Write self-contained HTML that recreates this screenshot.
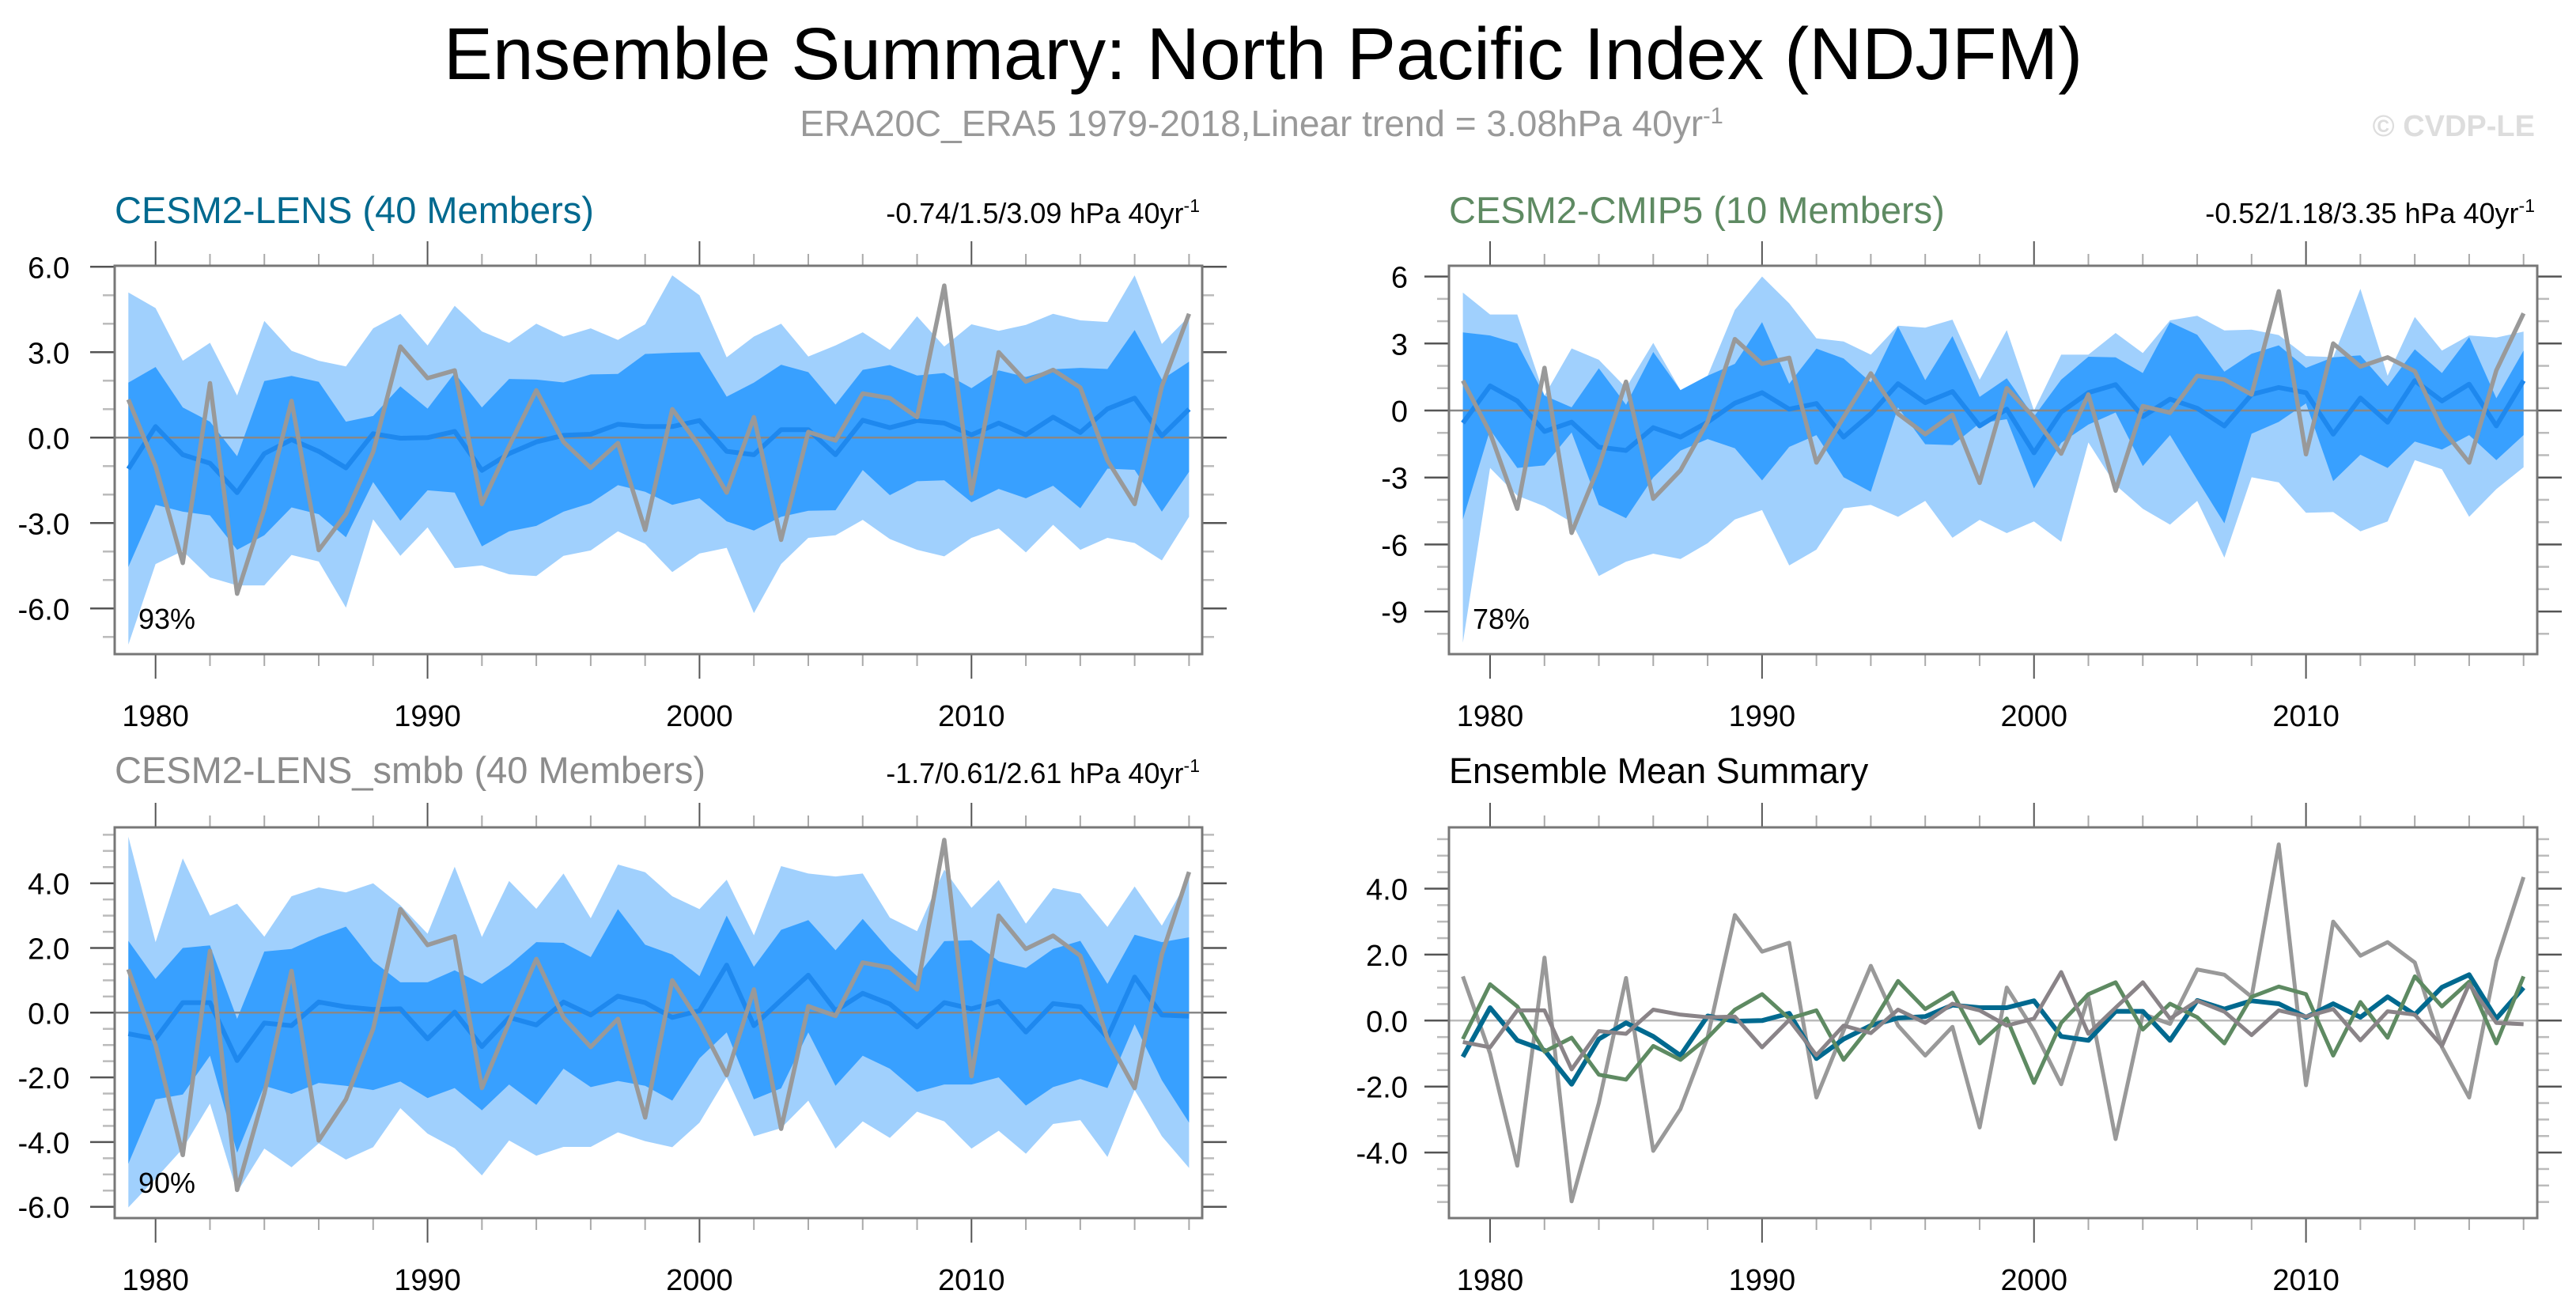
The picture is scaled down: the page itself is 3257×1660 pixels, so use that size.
<!DOCTYPE html>
<html><head><meta charset="utf-8"><title>Ensemble Summary: North Pacific Index (NDJFM)</title>
<style>html,body{margin:0;padding:0;background:#fff;}svg{display:block;font-family:"Liberation Sans",Arial,sans-serif;}</style>
</head><body>
<svg id="fig" width="3257" height="1660" viewBox="0 0 3257 1660" xmlns="http://www.w3.org/2000/svg">
<text x="1597" y="100" font-size="93" text-anchor="middle" fill="#000">Ensemble Summary: North Pacific Index (NDJFM)</text>
<text x="1595" y="172" font-size="46" text-anchor="middle" fill="#999">ERA20C_ERA5 1979-2018,Linear trend = 3.08hPa 40yr<tspan dy="-16" font-size="29">-1</tspan></text>
<text x="3205" y="172" font-size="38" font-weight="bold" text-anchor="end" fill="#ddd">© CVDP-LE</text>
<text x="145" y="282" font-size="47" fill="#00698f">CESM2-LENS (40 Members)</text>
<text x="1517" y="282" font-size="36" text-anchor="end" fill="#000">-0.74/1.5/3.09 hPa 40yr<tspan dy="-14" font-size="23">-1</tspan></text>
<text x="1832" y="282" font-size="47" fill="#5e8a62">CESM2-CMIP5 (10 Members)</text>
<text x="3205" y="282" font-size="36" text-anchor="end" fill="#000">-0.52/1.18/3.35 hPa 40yr<tspan dy="-14" font-size="23">-1</tspan></text>
<text x="145" y="990" font-size="47" fill="#8c8c8c">CESM2-LENS_smbb (40 Members)</text>
<text x="1517" y="990" font-size="36" text-anchor="end" fill="#000">-1.7/0.61/2.61 hPa 40yr<tspan dy="-14" font-size="23">-1</tspan></text>
<text x="1832" y="990" font-size="45" fill="#000">Ensemble Mean Summary</text>
</svg>
<script>
const years = [];
for (let y = 1979; y <= 2018; y++) years.push(y);
const obs = [1.34,-1.0,-4.4,1.91,-5.48,-2.5,1.29,-3.95,-2.68,-0.5,3.2,2.09,2.36,-2.33,-0.3,1.66,-0.15,-1.06,-0.19,-3.24,1.0,-0.3,-1.93,0.72,-3.59,0.2,-0.1,1.55,1.39,0.72,5.34,-1.96,3.0,1.97,2.38,1.76,-0.8,-2.33,1.8,4.35];
const meanLens = [-1.1,0.39,-0.6,-0.9,-1.93,-0.56,-0.07,-0.48,-1.06,0.14,-0.02,0,0.22,-1.15,-0.56,-0.15,0.08,0.12,0.47,0.39,0.39,0.6,-0.48,-0.6,0.28,0.28,-0.6,0.61,0.35,0.6,0.51,0.1,0.51,0.1,0.72,0.18,1.01,1.39,0.06,1.0];
const meanCmip5 = [-0.56,1.1,0.43,-0.94,-0.52,-1.64,-1.79,-0.77,-1.19,-0.52,0.33,0.8,0.06,0.31,-1.19,-0.15,1.2,0.35,0.85,-0.69,0.06,-1.89,-0.07,0.8,1.16,-0.27,0.51,0.1,-0.69,0.72,1.03,0.8,-1.06,0.56,-0.52,1.34,0.43,1.18,-0.69,1.34];
const meanSmbb = [-0.65,-0.81,0.31,0.31,-1.48,-0.32,-0.4,0.33,0.18,0.1,0.12,-0.81,0.02,-1.05,-0.15,-0.38,0.33,-0.07,0.51,0.31,-0.15,0.06,1.47,-0.4,0.39,1.16,0.06,0.6,0.27,-0.44,0.31,0.12,0.35,-0.6,0.28,0.18,-0.77,1.1,-0.07,-0.11];
const lensOutTop = [5.1,4.55,2.7,3.33,1.48,4.1,3.05,2.7,2.5,3.84,4.35,3.24,4.63,3.73,3.33,4.0,3.55,3.84,3.43,3.98,5.7,5.0,2.82,3.55,4.0,2.85,3.24,3.7,3.08,4.26,3.2,3.98,3.75,3.96,4.35,4.12,4.06,5.7,3.29,4.26];
const lensInTop = [1.93,2.48,1.06,0.56,-0.65,1.99,2.17,1.96,0.56,0.76,1.8,1.02,2.27,1.06,2.06,2.04,1.94,2.22,2.24,2.94,2.98,3.0,1.44,1.93,2.56,2.3,1.16,2.38,2.55,2.18,2.27,1.74,2.36,2.13,2.4,2.45,2.41,3.78,2.04,2.67];
const lensInBot = [-4.54,-2.36,-2.6,-2.73,-3.94,-3.43,-2.45,-2.69,-3.5,-1.56,-2.92,-1.85,-1.93,-3.82,-3.29,-3.1,-2.6,-2.3,-1.67,-1.9,-2.36,-2.13,-2.94,-3.26,-2.78,-2.57,-2.55,-1.14,-2.02,-1.53,-1.5,-2.27,-1.8,-2.13,-1.69,-2.48,-1.09,-1.13,-2.6,-1.2];
const lensOutBot = [-7.27,-4.44,-3.98,-4.91,-5.19,-5.19,-4.12,-4.35,-5.97,-2.87,-4.15,-3.15,-4.58,-4.49,-4.8,-4.86,-4.15,-3.96,-3.29,-3.73,-4.72,-4.07,-3.87,-6.16,-4.44,-3.52,-3.43,-2.89,-3.56,-3.94,-4.17,-3.52,-3.19,-4.03,-3.06,-3.94,-3.52,-3.7,-4.31,-2.78];
const cmipOutTop = [5.28,4.3,4.3,0.67,2.78,2.27,1.02,3.03,0.91,1.56,4.51,6.0,4.8,3.23,3.09,2.5,3.8,3.71,4.07,1.38,3.6,0.0,2.5,2.5,3.47,2.57,4.04,4.24,3.59,3.62,3.38,2.44,2.39,5.45,1.56,4.19,2.68,3.36,3.27,3.53];
const cmipInTop = [3.5,3.36,3.0,0.67,0.14,1.89,0.26,2.62,0.91,1.56,2.09,3.96,1.2,2.77,2.33,1.26,3.77,1.36,3.33,0.61,1.44,-0.27,1.38,2.41,2.38,1.68,3.96,3.39,1.74,2.54,2.92,1.91,2.38,2.47,1.09,2.74,1.68,3.29,0.55,2.68];
const cmipInBot = [-4.88,-0.86,-2.57,-2.46,-0.98,-4.23,-4.82,-3.0,-1.8,-1.28,-1.69,-3.13,-1.63,-1.1,-2.99,-3.64,0.14,-1.51,-1.55,-0.57,-0.39,-3.49,-1.45,-0.63,-0.09,-2.49,-1.1,-3.1,-5.05,-1.04,-0.51,0.32,-3.16,-1.98,-2.57,-1.39,-1.75,-1.1,-2.22,-1.1];
const cmipOutBot = [-10.4,-2.57,-3.81,-4.29,-5.0,-7.41,-6.77,-6.41,-6.65,-5.94,-4.88,-4.46,-6.94,-6.23,-4.38,-4.23,-4.76,-4.05,-5.7,-4.9,-5.49,-4.97,-5.88,-1.43,-3.34,-4.4,-5.11,-4.05,-6.59,-2.99,-3.22,-4.58,-4.55,-5.41,-4.97,-2.22,-2.63,-4.76,-3.52,-2.54];
const smbbOutTop = [5.44,2.18,4.77,3.0,3.37,2.35,3.6,3.87,3.72,4.0,3.32,2.44,4.51,2.34,4.07,3.21,4.3,2.92,4.58,4.34,3.6,3.2,4.11,2.39,4.53,4.3,4.21,4.3,2.94,2.52,4.42,3.24,4.1,2.75,3.85,3.68,2.65,3.9,2.69,4.17];
const smbbInTop = [2.22,1.04,2.0,2.08,-0.19,1.89,1.97,2.35,2.66,1.59,0.94,0.94,1.31,0.89,1.46,2.18,2.16,1.72,3.2,2.1,1.8,1.13,3.0,1.42,2.56,2.86,1.93,2.9,1.93,1.13,2.21,2.24,1.59,1.38,1.97,2.22,0.89,2.41,2.18,2.33];
const smbbInBot = [-4.67,-2.68,-2.53,-1.33,-4.33,-2.26,-2.51,-2.17,-2.26,-2.39,-2.13,-2.64,-2.33,-3.02,-2.22,-2.85,-1.73,-2.3,-2.11,-2.26,-2.72,-1.41,-0.61,-2.68,-2.34,-0.61,-2.26,-1.33,-1.73,-2.45,-2.22,-2.22,-2.0,-2.87,-2.3,-2.05,-2.33,-0.36,-2.09,-3.4];
const smbbOutBot = [-6.02,-5.13,-4.2,-2.81,-5.55,-4.2,-4.78,-4.04,-4.54,-4.16,-2.95,-3.74,-4.19,-5.03,-3.95,-4.42,-4.15,-4.15,-3.7,-3.97,-4.16,-3.4,-2.0,-3.82,-3.57,-2.72,-4.2,-3.36,-3.87,-3.06,-3.36,-4.2,-3.65,-4.36,-3.44,-3.32,-4.46,-2.39,-3.82,-4.8];
const xTickLabels = ['1980','1990','2000','2010'];
const yTicks36 = [6,3,0,-3,-6];
const yTicks36Labels = ['6.0','3.0','0.0','-3.0','-6.0'];
const yTicksCmip = [6,3,0,-3,-6,-9];
const yTicksCmipLabels = ['6','3','0','-3','-6','-9'];
const yTicksSmbb = [4,2,0,-2,-4,-6];
const yTicksSmbbLabels = ['4.0','2.0','0.0','-2.0','-4.0','-6.0'];
const yTicksSum = [4,2,0,-2,-4];
const yTicksSumLabels = ['4.0','2.0','0.0','-2.0','-4.0'];

const NS = 'http://www.w3.org/2000/svg';
const svg = document.getElementById('fig');
function mk(tag, attrs, parent) {
  const e = document.createElementNS(NS, tag);
  for (const k in attrs) e.setAttribute(k, attrs[k]);
  (parent || svg).appendChild(e);
  return e;
}

function makePanel(p) {
  const g = mk('g', {});
  
  
  const xs = yr => p.x0 + (yr - 1979) / 39 * (p.x1 - p.x0);
  const ys = v => p.yz - v * p.k;
  const yMax = (p.yz - p.top) / p.k, yMin = (p.yz - p.bot) / p.k;
  for (let yr = 1980; yr <= 2018; yr += 2) {
    const major = yr % 10 === 0;
    const len = major ? 31 : 15;
    const x = xs(yr);
    const t1 = mk('line', {x1: x, x2: x, y1: p.top - len, y2: p.top, stroke: major ? '#555' : '#aaa', 'stroke-width': 2}, g);
    
    
    const t2 = mk('line', {x1: x, x2: x, y1: p.bot, y2: p.bot + len, stroke: major ? '#555' : '#aaa', 'stroke-width': 2}, g);
    
    
  }
  for (let v = Math.ceil(yMin / p.minor) * p.minor; v <= yMax + 1e-6; v += p.minor) {
    const vv = Math.round(v * 100) / 100;
    const major = Math.abs(vv / p.major - Math.round(vv / p.major)) < 1e-6;
    const len = major ? 31 : 15;
    const y = ys(vv);
    const c = major ? '#555' : '#bbb';
    const a = mk('line', {x1: p.x0l - len, x2: p.x0l, y1: y, y2: y, stroke: c, 'stroke-width': 2.5}, g);
    
    
    const b = mk('line', {x1: p.x1r, x2: p.x1r + len, y1: y, y2: y, stroke: c, 'stroke-width': 2.5}, g);
    
    
  }
  function band(upper, lower, fill, nm) {
    let d = '';
    upper.forEach((v, i) => { d += (i ? 'L' : 'M') + xs(years[i]).toFixed(1) + ',' + ys(v).toFixed(1); });
    for (let i = lower.length - 1; i >= 0; i--) d += 'L' + xs(years[i]).toFixed(1) + ',' + ys(lower[i]).toFixed(1);
    const e = mk('path', {d: d + 'Z', fill: fill, stroke: 'none'}, g);
    
    
  }
  function line(vals, color, w, nm) {
    const pts = vals.map((v, i) => xs(years[i]).toFixed(1) + ',' + ys(v).toFixed(1)).join(' ');
    const e = mk('polyline', {points: pts, fill: 'none', stroke: color, 'stroke-width': w, 'stroke-linejoin': 'round'}, g);
    
    
  }
  if (p.bands) {
    band(p.bands[0], p.bands[3], '#a0d0fd', 'outer-spread-band');
    band(p.bands[1], p.bands[2], '#38a0ff', 'inner-spread-band');
  }
  const z = mk('line', {x1: p.x0l, x2: p.x1r, y1: ys(0), y2: ys(0), stroke: p.zc, 'stroke-width': 2.5}, g);
  
  
  p.lines.forEach(l => line(l[0], l[1], l[2], l[3]));
  const fr = mk('rect', {x: p.x0l, y: p.top, width: p.x1r - p.x0l, height: p.bot - p.top, fill: 'none', stroke: '#777', 'stroke-width': 3}, g);
  
  
  xTickLabels.forEach(s => {
    const t = mk('text', {x: xs(+s), y: p.bot + 91, 'font-size': 38, 'text-anchor': 'middle', fill: '#000'}, g);
    t.textContent = s;
    
    
  });
  p.yt.forEach((v, i) => {
    const t = mk('text', {x: p.ylx, y: ys(v) + 14, 'font-size': 38, 'text-anchor': 'end', fill: '#000'}, g);
    t.textContent = p.ytl[i];
    
    
  });
  if (p.pct) {
    const t = mk('text', {x: p.x0l + 30, y: p.bot - 32, 'font-size': 36, fill: '#000'}, g);
    t.textContent = p.pct;
    
    
  }
}

makePanel({name: 'panel-cesm2-lens', x0l: 145, x1r: 1520, x0: 162.3, x1: 1503.4, top: 336, bot: 827, yz: 553.3, k: 36,
  minor: 1, major: 3, yt: yTicks36, ytl: yTicks36Labels, ylx: 88, pct: '93%', zc: '#888',
  bands: [lensOutTop, lensInTop, lensInBot, lensOutBot],
  lines: [[meanLens, '#1e88ee', 6, 'ensemble-mean-line'], [obs, '#999', 5.5, 'observed-line']]});
makePanel({name: 'panel-cesm2-cmip5', x0l: 1832, x1r: 3208, x0: 1849.6, x1: 3190.7, top: 336, bot: 827, yz: 519, k: 28.23,
  minor: 1, major: 3, yt: yTicksCmip, ytl: yTicksCmipLabels, ylx: 1780, pct: '78%', zc: '#888',
  bands: [cmipOutTop, cmipInTop, cmipInBot, cmipOutBot],
  lines: [[meanCmip5, '#1e88ee', 6, 'ensemble-mean-line'], [obs, '#999', 5.5, 'observed-line']]});
makePanel({name: 'panel-cesm2-lens-smbb', x0l: 145, x1r: 1520, x0: 162.3, x1: 1503.4, top: 1046, bot: 1540, yz: 1280.3, k: 40.9,
  minor: 0.5, major: 2, yt: yTicksSmbb, ytl: yTicksSmbbLabels, ylx: 88, pct: '90%', zc: '#888',
  bands: [smbbOutTop, smbbInTop, smbbInBot, smbbOutBot],
  lines: [[meanSmbb, '#1e88ee', 6, 'ensemble-mean-line'], [obs, '#999', 5.5, 'observed-line']]});
makePanel({name: 'panel-ensemble-mean-summary', x0l: 1832, x1r: 3208, x0: 1849.6, x1: 3190.7, top: 1046, bot: 1540, yz: 1290.3, k: 41.7,
  minor: 0.5, major: 2, yt: yTicksSum, ytl: yTicksSumLabels, ylx: 1780, pct: null, bands: null, zc: '#bbb',
  lines: [[obs, '#999', 5, 'observed-line'], [meanLens, '#00698f', 6, 'cesm2-lens-mean-line'], [meanCmip5, '#5e8a62', 5, 'cesm2-cmip5-mean-line'], [meanSmbb, '#8a8488', 5, 'cesm2-lens-smbb-mean-line']]});
</script>
</body></html>
